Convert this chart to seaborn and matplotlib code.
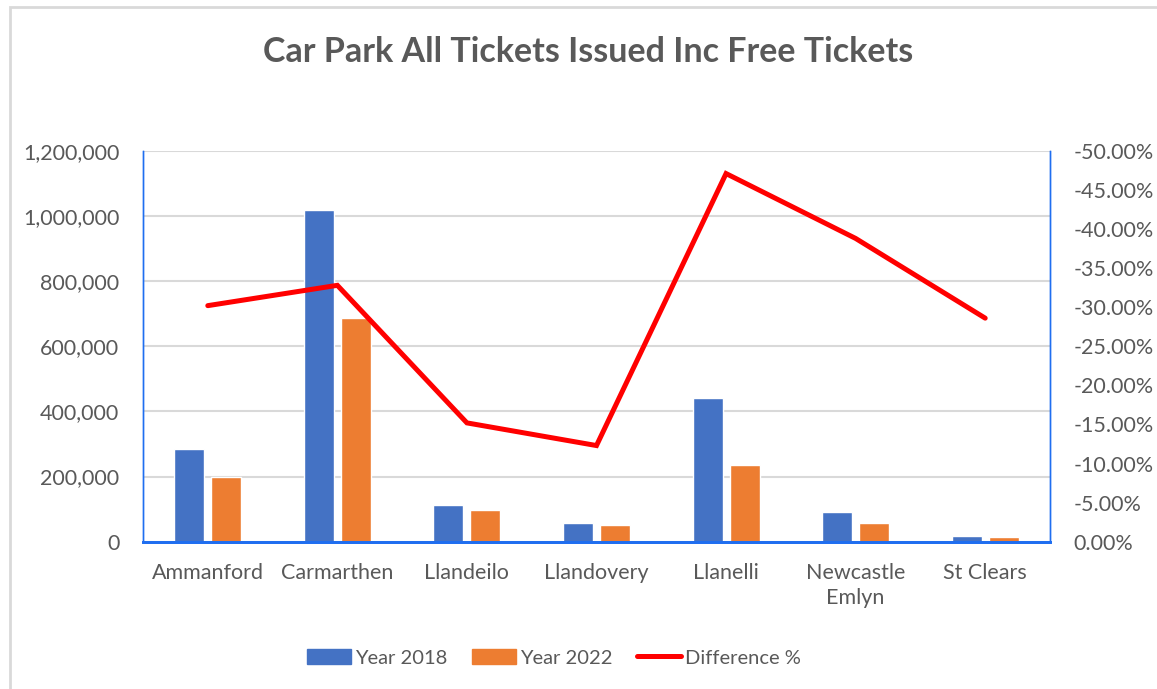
import numpy as np
import pandas as pd
import seaborn as sns
import matplotlib.pyplot as plt
from matplotlib.patches import Patch, Rectangle
from matplotlib.lines import Line2D
from matplotlib.ticker import FuncFormatter, MultipleLocator

towns = ["Ammanford", "Carmarthen", "Llandeilo", "Llandovery", "Llanelli",
         "Newcastle\nEmlyn", "St Clears"]
year_2018 = [286000, 1020000, 114000, 58000, 440000, 92000, 19000]
year_2022 = [200000, 688000, 98000, 52000, 234000, 58000, 13000]
diff_pct = [-30.2, -32.8, -15.2, -12.3, -47.1, -38.8, -28.6]

df = pd.DataFrame({
    "town": towns * 2,
    "tickets": year_2018 + year_2022,
    "year": ["Year 2018"] * len(towns) + ["Year 2022"] * len(towns),
})

sns.set_theme(style="white")
plt.rcParams["font.family"] = ["Lato", "DejaVu Sans"]
grey = "#595959"
spine_blue = "#1F6EF0"

fig = plt.figure(figsize=(11.57, 6.89), dpi=100)
ax = fig.add_axes([0.1236, 0.2138, 0.7839, 0.5672])

sns.barplot(data=df, x="town", y="tickets", hue="year",
            palette=["#4472C4", "#ED7D31"], width=0.571, gap=0.19,
            saturation=1, ax=ax, legend=False)

ax.set_ylim(0, 1200000)
ax.yaxis.set_major_locator(MultipleLocator(200000))
ax.yaxis.set_major_formatter(FuncFormatter(lambda v, p: f"{int(v):,}"))
ax.grid(axis="y", color="#D9D9D9", linewidth=1.5)
ax.set_axisbelow(True)
ax.set_xlabel("")
ax.set_ylabel("")
ax.tick_params(axis="y", length=0, pad=17, labelsize=15.5, labelcolor=grey)
ax.tick_params(axis="x", length=0, pad=15, labelsize=15.5, labelcolor=grey)
for lab in ax.get_xticklabels():
    lab.set_linespacing(1.35)
    lab.set_verticalalignment("top")

ax2 = ax.twinx()
sns.lineplot(x=np.arange(len(towns)), y=diff_pct, color="#FF0000",
             linewidth=3.6, sort=False, ax=ax2,
             solid_capstyle="round", solid_joinstyle="miter")
ax2.set_ylim(0, -50)
ax2.yaxis.set_major_locator(MultipleLocator(5))
ax2.yaxis.set_major_formatter(FuncFormatter(
    lambda v, p: "0.00%" if abs(v) < 1e-9 else f"{v:.2f}%"))
ax2.tick_params(axis="y", length=0, pad=17, labelsize=15.5, labelcolor=grey)
ax2.set_xlim(-0.5, len(towns) - 0.5)
ax.set_xlim(-0.5, len(towns) - 0.5)

for a in (ax, ax2):
    a.spines["top"].set_visible(False)
    a.spines["left"].set_color(spine_blue)
    a.spines["left"].set_linewidth(1)
    a.spines["right"].set_color(spine_blue)
    a.spines["right"].set_linewidth(1)
    a.spines["bottom"].set_color(spine_blue)
    a.spines["bottom"].set_linewidth(2)

fig.text(0.508, 0.925, "Car Park All Tickets Issued Inc Free Tickets",
         ha="center", va="center", fontsize=24.5, fontweight="bold", color=grey)

handles = [Patch(color="#4472C4", label="Year 2018"),
           Patch(color="#ED7D31", label="Year 2022"),
           Line2D([], [], color="#FF0000", linewidth=3.6,
                  solid_capstyle="round", label="Difference %")]
fig.legend(handles=handles, loc="center", bbox_to_anchor=(0.479, 0.045),
           ncol=3, frameon=False, fontsize=14.5, handlelength=2.2,
           handleheight=0.75, handletextpad=0.2, columnspacing=1.2,
           labelcolor=grey)

# chart border
fig.patches.append(Rectangle((10 / 1157, -0.1), 1.2, 1.1 - 7 / 689,
                             transform=fig.transFigure, fill=False,
                             edgecolor="#D9D9D9", linewidth=2, zorder=0))

fig.savefig("out.png", dpi=100)
